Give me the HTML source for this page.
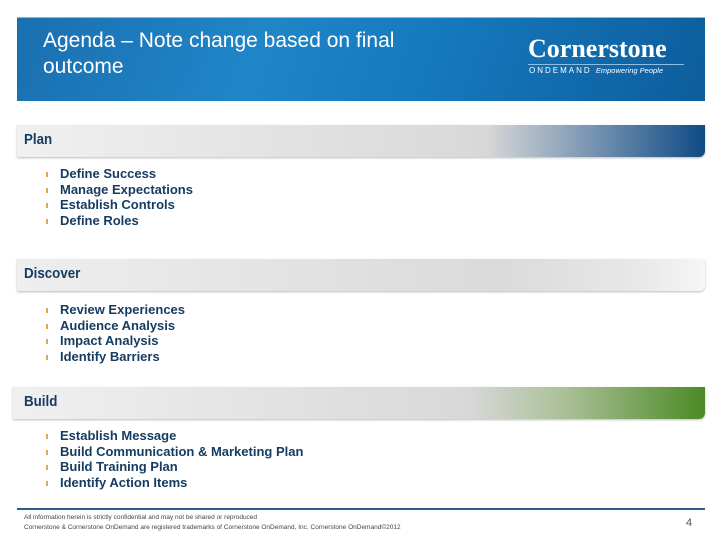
<!DOCTYPE html>
<html><head><meta charset="utf-8"><style>
body{margin:0;width:720px;height:540px;background:#fff;position:relative;overflow:hidden;font-family:"Liberation Sans",sans-serif}
.a{position:absolute}
.hdr{left:17px;top:17px;width:688px;height:83px;background:linear-gradient(110deg,#1a6fb0 0%,#1f86c8 35%,#1579bd 60%,#0d5d9c 100%);border-top:1px solid #7cc0e6}
.title{left:43px;top:28px;color:#fff;font-size:21px;line-height:26px}
.bar{left:17px;width:688px;height:32px;border-radius:0 0 6px 0;box-shadow:0 1px 2px #bbb}
.bar span{position:absolute;left:7px;top:7px;font-size:14.5px;color:#173c62;font-weight:bold;transform:scaleX(.92);transform-origin:left}
ul{position:absolute;left:46px;margin:0;padding:0;list-style:none}
li{font-size:13px;font-weight:bold;color:#173c62;line-height:15.7px;position:relative;padding-left:14px}
li:before{content:"";position:absolute;left:0;top:6px;width:2px;height:5px;background:#d9a95a}
</style></head><body>
<div class="a hdr"></div>
<div class="a title">Agenda – Note change based on final<br>outcome</div>
<div class="a" style="left:528px;top:34px;color:#fff;font-family:'Liberation Serif',serif;font-weight:bold;font-size:26px;line-height:30px">Cornerstone</div>
<div class="a" style="left:528px;top:64px;width:156px;border-top:1px solid #8fbde0"></div>
<div class="a" style="left:529px;top:66px;color:#fff;font-size:8px;letter-spacing:2px">ONDEMAND <span style="letter-spacing:0;font-style:italic;font-size:7.5px">Empowering People</span></div>

<div class="a bar" style="top:125px;background:linear-gradient(90deg,#f0f0f0 0%,#d8d8d8 68%,#8ea4bb 80%,#0f4b85 100%)"><span>Plan</span></div>
<ul style="top:166px">
<li>Define Success</li>
<li>Manage Expectations</li>
<li>Establish Controls</li>
<li>Define Roles</li></ul>

<div class="a bar" style="top:259px;background:linear-gradient(90deg,#eeeeee 0%,#dadada 70%,#e8e8e8 90%,#f6f6f6 100%)"><span>Discover</span></div>
<ul style="top:302px">
<li>Review Experiences</li>
<li>Audience Analysis</li>
<li>Impact Analysis</li>
<li>Identify Barriers</li></ul>

<div class="a bar" style="top:387px;left:13px;width:692px;background:linear-gradient(90deg,#f0f0f0 0%,#d8d8d8 66%,#a9bf96 80%,#4c8a25 100%)"><span style="left:11px">Build</span></div>
<ul style="top:428px">
<li>Establish Message</li>
<li>Build Communication &amp; Marketing Plan</li>
<li>Build Training Plan</li>
<li>Identify Action Items</li></ul>

<div class="a" style="left:17px;top:508px;width:688px;border-top:2px solid #2a5d8c"></div>
<div class="a" style="left:24px;top:513px;font-size:6.5px;line-height:10px;color:#444">All information herein is strictly confidential and may not be shared or reproduced<br>Cornerstone &amp; Cornerstone OnDemand are registered trademarks of Cornerstone OnDemand, Inc. Cornerstone OnDemand©2012</div>
<div class="a" style="left:686px;top:517px;font-size:11px;color:#555">4</div>
</body></html>
